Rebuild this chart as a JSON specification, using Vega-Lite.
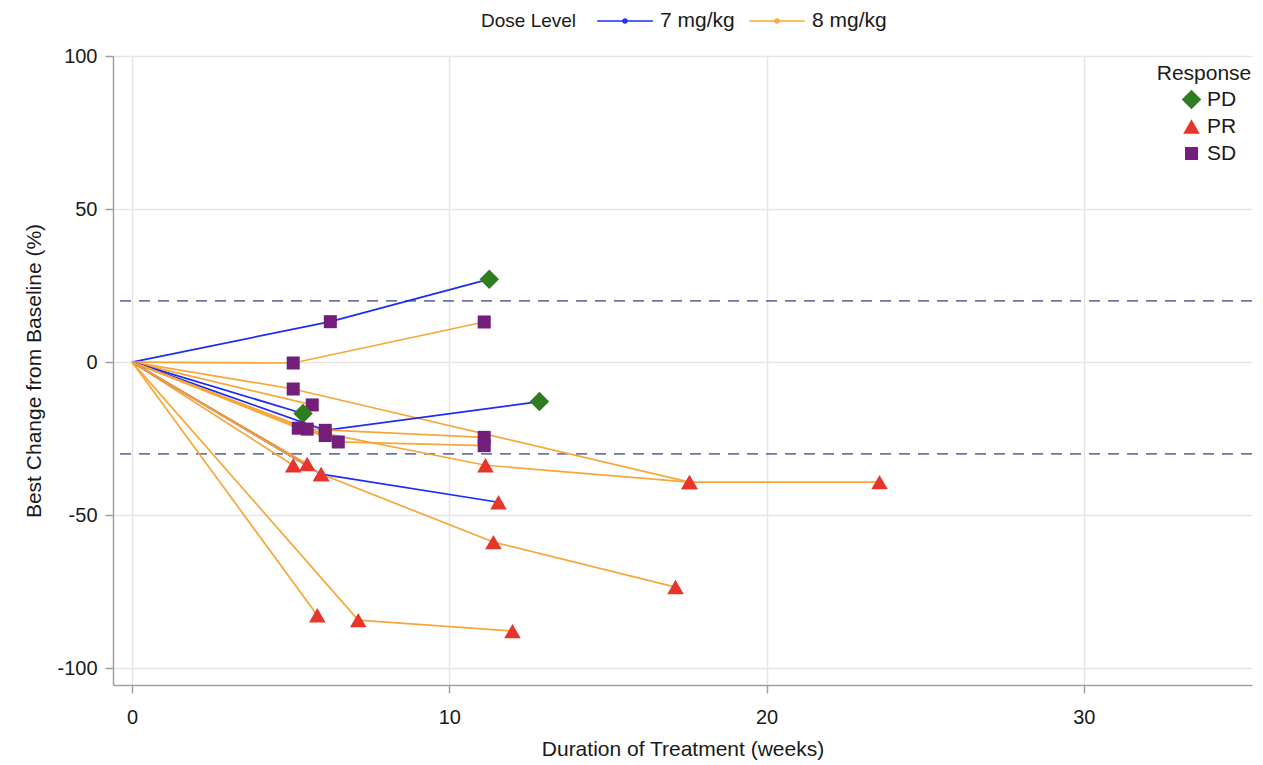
{
  "$schema": "https://vega.github.io/schema/vega-lite/v6.json",
  "width": 1139,
  "height": 629,
  "autosize": {"type": "none"},
  "padding": {"left": 113, "top": 56, "right": 11, "bottom": 80},
  "background": "white",
  "config": {
    "font": "Liberation Sans",
    "view": {"stroke": null},
    "axis": {
      "labelFont": "Liberation Sans",
      "titleFont": "Liberation Sans",
      "labelFontSize": 20,
      "titleFontSize": 21,
      "titleFontWeight": "normal",
      "labelColor": "#1a1a1a",
      "titleColor": "#1a1a1a",
      "domainColor": "#a0a0a0",
      "domainWidth": 1.5,
      "tickColor": "#a0a0a0",
      "tickWidth": 1.5,
      "tickSize": 8,
      "gridColor": "#e6e6e6",
      "gridWidth": 1.5
    },
    "legend": {
      "labelFont": "Liberation Sans",
      "titleFont": "Liberation Sans",
      "labelFontSize": 21,
      "titleFontSize": 19,
      "titleFontWeight": "normal",
      "labelColor": "#1a1a1a",
      "titleColor": "#1a1a1a"
    }
  },
  "datasets": {
    "traj": [
      {"subj": "S01", "dose": "7 mg/kg", "ord": 0, "week": 0, "pct": 0, "resp": null},
      {"subj": "S01", "dose": "7 mg/kg", "ord": 1, "week": 6.25, "pct": 13.2, "resp": "SD"},
      {"subj": "S01", "dose": "7 mg/kg", "ord": 2, "week": 11.26, "pct": 27.1, "resp": "PD"},
      {"subj": "S02", "dose": "8 mg/kg", "ord": 0, "week": 0, "pct": 0, "resp": null},
      {"subj": "S02", "dose": "8 mg/kg", "ord": 1, "week": 5.08, "pct": -0.3, "resp": "SD"},
      {"subj": "S02", "dose": "8 mg/kg", "ord": 2, "week": 11.1, "pct": 13.1, "resp": "SD"},
      {"subj": "S03", "dose": "8 mg/kg", "ord": 0, "week": 0, "pct": 0, "resp": null},
      {"subj": "S03", "dose": "8 mg/kg", "ord": 1, "week": 5.08, "pct": -8.8, "resp": "SD"},
      {"subj": "S03", "dose": "8 mg/kg", "ord": 2, "week": 17.57, "pct": -39.2, "resp": "PR"},
      {"subj": "S04", "dose": "8 mg/kg", "ord": 0, "week": 0, "pct": 0, "resp": null},
      {"subj": "S04", "dose": "8 mg/kg", "ord": 1, "week": 5.68, "pct": -14, "resp": "SD"},
      {"subj": "S05", "dose": "7 mg/kg", "ord": 0, "week": 0, "pct": 0, "resp": null},
      {"subj": "S05", "dose": "7 mg/kg", "ord": 1, "week": 5.39, "pct": -16.8, "resp": "PD"},
      {"subj": "S06", "dose": "7 mg/kg", "ord": 0, "week": 0, "pct": 0, "resp": null},
      {"subj": "S06", "dose": "7 mg/kg", "ord": 1, "week": 6.09, "pct": -22.3, "resp": "SD"},
      {"subj": "S06", "dose": "7 mg/kg", "ord": 2, "week": 12.84, "pct": -12.9, "resp": "PD"},
      {"subj": "S07", "dose": "8 mg/kg", "ord": 0, "week": 0, "pct": 0, "resp": null},
      {"subj": "S07", "dose": "8 mg/kg", "ord": 1, "week": 5.24, "pct": -21.6, "resp": "SD"},
      {"subj": "S07", "dose": "8 mg/kg", "ord": 2, "week": 11.14, "pct": -33.7, "resp": "PR"},
      {"subj": "S07", "dose": "8 mg/kg", "ord": 3, "week": 17.57, "pct": -39.2, "resp": "PR"},
      {"subj": "S07", "dose": "8 mg/kg", "ord": 4, "week": 23.56, "pct": -39.2, "resp": "PR"},
      {"subj": "S08", "dose": "8 mg/kg", "ord": 0, "week": 0, "pct": 0, "resp": null},
      {"subj": "S08", "dose": "8 mg/kg", "ord": 1, "week": 5.52, "pct": -21.9, "resp": "SD"},
      {"subj": "S08", "dose": "8 mg/kg", "ord": 2, "week": 11.1, "pct": -24.6, "resp": "SD"},
      {"subj": "S09", "dose": "8 mg/kg", "ord": 0, "week": 0, "pct": 0, "resp": null},
      {"subj": "S09", "dose": "8 mg/kg", "ord": 1, "week": 6.09, "pct": -24.0, "resp": "SD"},
      {"subj": "S10", "dose": "8 mg/kg", "ord": 0, "week": 0, "pct": 0, "resp": null},
      {"subj": "S10", "dose": "8 mg/kg", "ord": 1, "week": 6.5, "pct": -26.1, "resp": "SD"},
      {"subj": "S10", "dose": "8 mg/kg", "ord": 2, "week": 11.1, "pct": -27.3, "resp": "SD"},
      {"subj": "S11", "dose": "8 mg/kg", "ord": 0, "week": 0, "pct": 0, "resp": null},
      {"subj": "S11", "dose": "8 mg/kg", "ord": 1, "week": 5.08, "pct": -33.7, "resp": "PR"},
      {"subj": "S12", "dose": "8 mg/kg", "ord": 0, "week": 0, "pct": 0, "resp": null},
      {"subj": "S12", "dose": "8 mg/kg", "ord": 1, "week": 5.52, "pct": -33.3, "resp": "PR"},
      {"subj": "S13", "dose": "7 mg/kg", "ord": 0, "week": 0, "pct": 0, "resp": null},
      {"subj": "S13", "dose": "7 mg/kg", "ord": 1, "week": 5.96, "pct": -36.6, "resp": "PR"},
      {"subj": "S13", "dose": "7 mg/kg", "ord": 2, "week": 11.55, "pct": -45.8, "resp": "PR"},
      {"subj": "S14", "dose": "8 mg/kg", "ord": 0, "week": 0, "pct": 0, "resp": null},
      {"subj": "S14", "dose": "8 mg/kg", "ord": 1, "week": 5.96, "pct": -36.6, "resp": "PR"},
      {"subj": "S14", "dose": "8 mg/kg", "ord": 2, "week": 11.39, "pct": -58.8, "resp": "PR"},
      {"subj": "S14", "dose": "8 mg/kg", "ord": 3, "week": 17.13, "pct": -73.5, "resp": "PR"},
      {"subj": "S15", "dose": "8 mg/kg", "ord": 0, "week": 0, "pct": 0, "resp": null},
      {"subj": "S15", "dose": "8 mg/kg", "ord": 1, "week": 5.84, "pct": -82.7, "resp": "PR"},
      {"subj": "S16", "dose": "8 mg/kg", "ord": 0, "week": 0, "pct": 0, "resp": null},
      {"subj": "S16", "dose": "8 mg/kg", "ord": 1, "week": 7.13, "pct": -84.3, "resp": "PR"},
      {"subj": "S16", "dose": "8 mg/kg", "ord": 2, "week": 11.99, "pct": -87.9, "resp": "PR"}
    ],
    "refs": [{"y": 20}, {"y": -30}]
  },
  "layer": [
    {
      "data": {"name": "refs"},
      "mark": {"type": "rule", "color": "#6c75a8", "strokeWidth": 1.6, "strokeDash": [11, 8]},
      "encoding": {
        "y": {"field": "y", "type": "quantitative", "scale": {"domain": [-105.5, 100], "nice": false, "zero": false}}
      }
    },
    {
      "data": {"name": "traj"},
      "mark": {"type": "line", "strokeWidth": 1.7},
      "encoding": {
        "x": {
          "field": "week", "type": "quantitative",
          "scale": {"domain": [-0.6, 35.3], "nice": false, "zero": false},
          "axis": {"values": [0, 10, 20, 30], "title": "Duration of Treatment (weeks)", "labelPadding": 14, "titlePadding": 11}
        },
        "y": {
          "field": "pct", "type": "quantitative",
          "scale": {"domain": [-105.5, 100], "nice": false, "zero": false},
          "axis": {"values": [-100, -50, 0, 50, 100], "labelExpr": "'' + datum.value", "title": "Best Change from Baseline (%)", "labelPadding": 8, "titlePadding": 12}
        },
        "detail": {"field": "subj"},
        "order": {"field": "ord"},
        "stroke": {
          "field": "dose", "type": "nominal",
          "scale": {"domain": ["7 mg/kg", "8 mg/kg"], "range": ["#1c2cf5", "#f7a638"]},
          "legend": {
            "title": "Dose Level",
            "orient": "none",
            "direction": "horizontal",
            "titleOrient": "left",
            "titleAnchor": "middle",
            "titleBaseline": "top",
            "legendX": 368,
            "legendY": -64,
            "titlePadding": 19,
            "columnPadding": 10,
            "labelOffset": 6,
            "symbolType": "M-1,0L1,0M-0.07,0A0.07,0.07,0,1,0,0.07,0A0.07,0.07,0,1,0,-0.07,0",
            "symbolSize": 3100,
            "symbolStrokeWidth": 1.7
          }
        }
      }
    },
    {
      "data": {"name": "traj"},
      "transform": [{"filter": "datum.resp != null"}],
      "mark": {"type": "point", "filled": true, "opacity": 1, "strokeWidth": 0},
      "encoding": {
        "x": {"field": "week", "type": "quantitative"},
        "y": {"field": "pct", "type": "quantitative"},
        "shape": {
          "field": "resp", "type": "nominal",
          "scale": {"domain": ["PD", "PR", "SD"], "range": ["diamond", "triangle-up", "square"]},
          "legend": {
            "title": "Response",
            "orient": "none",
            "legendX": 1044,
            "legendY": 7,
            "titleFontSize": 21,
            "titleAnchor": "middle",
            "titlePadding": 5,
            "rowPadding": 5,
            "symbolOffset": 10,
            "symbolSize": 170,
            "labelOffset": 5
          }
        },
        "color": {
          "field": "resp", "type": "nominal",
          "scale": {"domain": ["PD", "PR", "SD"], "range": ["#2e7d1f", "#e8352b", "#741e7c"]},
          "legend": {
            "title": "Response",
            "orient": "none",
            "legendX": 1044,
            "legendY": 7,
            "titleFontSize": 21,
            "titleAnchor": "middle",
            "titlePadding": 5,
            "rowPadding": 5,
            "symbolOffset": 10,
            "symbolSize": 170,
            "labelOffset": 5
          }
        },
        "size": {
          "field": "resp", "type": "nominal",
          "scale": {"domain": ["PD", "PR", "SD"], "range": [380, 170, 160]},
          "legend": null
        }
      }
    }
  ]
}
